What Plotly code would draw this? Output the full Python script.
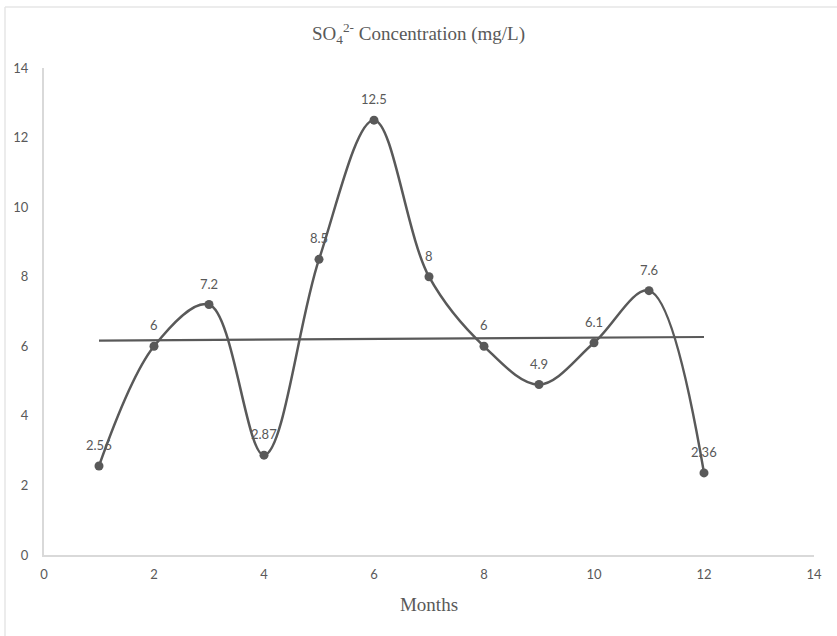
import numpy as np
import plotly.graph_objects as go

# Monthly sulfate concentration
months = [1, 2, 3, 4, 5, 6, 7, 8, 9, 10, 11, 12]
so4 = [2.56, 6, 7.2, 2.87, 8.5, 12.5, 8, 6, 4.9, 6.1, 7.6, 2.36]
value_labels = ["2.56", "6", "7.2", "2.87", "8.5", "12.5", "8", "6", "4.9", "6.1", "7.6", "2.36"]
axis_ticks = [0, 2, 4, 6, 8, 10, 12, 14]

W, H = 837, 636
ML, MR, MT, MB = 44, 23, 68, 81

LINE = "#595959"
AXIS = "#d9d9d9"
TEXT = "#595959"
SANS = "Lato, Open Sans, sans-serif"
SERIF = "Liberation Serif, Times New Roman, serif"

# Linear trend line over the monthly values
slope, intercept = np.polyfit(months, so4, 1)
trend_x = [months[0], months[-1]]
trend_y = [slope * x + intercept for x in trend_x]

fig = go.Figure()
fig.add_trace(go.Scatter(
    x=trend_x, y=trend_y, mode="lines",
    line=dict(color=LINE, width=2.2),
    hoverinfo="skip", showlegend=False,
))
fig.add_trace(go.Scatter(
    x=months, y=so4, mode="lines+markers",
    line=dict(color=LINE, width=2.5, shape="spline", smoothing=1.0),
    marker=dict(color=LINE, size=9),
    showlegend=False,
))

# Value labels above each point
for m, v, lab in zip(months, so4, value_labels):
    fig.add_annotation(
        x=m, y=v, text=lab, showarrow=False,
        yshift=21, xanchor="center", yanchor="middle",
        font=dict(family=SANS, size=13, color=TEXT),
    )

# Light frame lines (top and left) around the chart area
pw = W - ML - MR
ph = H - MT - MB
def px_x(p):
    return (p - ML) / pw
def px_y(p):
    return 1 - (p - MT) / ph

fig.add_shape(type="line", xref="paper", yref="paper",
              x0=px_x(5), x1=px_x(W + 5), y0=px_y(7), y1=px_y(7),
              line=dict(color="#e6e6e6", width=1.5))
fig.add_shape(type="line", xref="paper", yref="paper",
              x0=px_x(5), x1=px_x(5), y0=px_y(7), y1=px_y(H + 5),
              line=dict(color="#e6e6e6", width=1.5))

fig.update_layout(
    width=W, height=H,
    margin=dict(l=ML, r=MR, t=MT, b=MB),
    paper_bgcolor="white", plot_bgcolor="white",
    title=dict(
        text="SO<sub>4</sub><sup>2-</sup> Concentration (mg/L)",
        x=0.5, xanchor="center", y=1 - 33 / H, yanchor="middle",
        font=dict(family=SERIF, size=19, color=TEXT),
    ),
    xaxis=dict(
        range=[0, 14], tickvals=axis_ticks, ticktext=[str(t) for t in axis_ticks],
        showgrid=False, zeroline=False,
        showline=True, linecolor=AXIS, linewidth=2,
        ticks="", ticklabelstandoff=6,
        tickfont=dict(family=SANS, size=13, color=TEXT),
        title=dict(text="Months", standoff=17,
                   font=dict(family=SERIF, size=19, color=TEXT)),
    ),
    yaxis=dict(
        range=[0, 14], tickvals=axis_ticks, ticktext=[str(t) for t in axis_ticks],
        showgrid=False, zeroline=False,
        showline=True, linecolor=AXIS, linewidth=2,
        ticks="", ticklabelstandoff=11,
        tickfont=dict(family=SANS, size=13, color=TEXT),
    ),
)

fig.write_html("out.html")
